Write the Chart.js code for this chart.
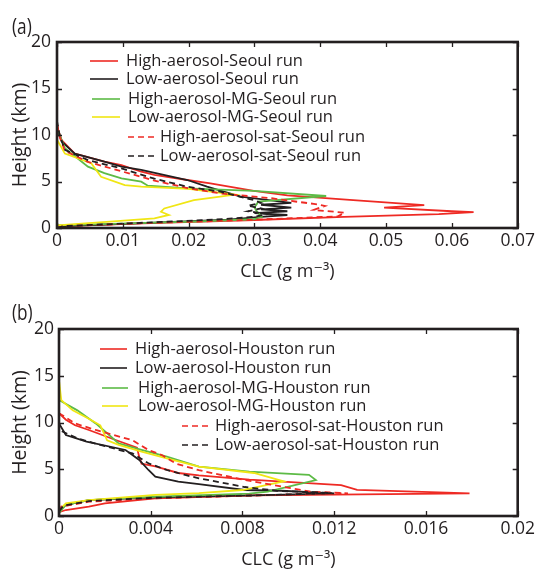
<!DOCTYPE html>
<html><head><meta charset="utf-8">
<script src="https://cdn.jsdelivr.net/npm/chart.js@4.4.1/dist/chart.umd.min.js"></script>
<style>
html,body{margin:0;padding:0;background:#fff;width:538px;height:573px;overflow:hidden;}
canvas{position:absolute;left:0;display:block;}
#ca{top:0}
#cb{top:287px}
</style></head><body>
<canvas id="ca" width="538" height="287"></canvas>
<canvas id="cb" width="538" height="286"></canvas>
<script>
// ---------- Panel (a): Seoul ----------
const seoulLabels = ['High-aerosol-Seoul run','Low-aerosol-Seoul run','High-aerosol-MG-Seoul run','Low-aerosol-MG-Seoul run','High-aerosol-sat-Seoul run','Low-aerosol-sat-Seoul run'];
const seoulHighH   = [0,0.2,0.5,0.86,1.2,1.5,1.7,1.8,2.2,2.47,3.0,3.5,4.0,4.8,5.16,5.7,6.05,6.77,7.13,8.0,9.46,10.9,18.5];
const seoulHighCLC = [0,0.001,0.013,0.030,0.0436,0.058,0.0633,0.060,0.0497,0.0558,0.045,0.035,0.0299,0.0233,0.0198,0.0148,0.0128,0.0098,0.0072,0.0027,0.0007,0,0];
const seoulLowH    = [0,0.2,0.5,0.9,1.2,1.4,1.6,1.8,2.0,2.2,2.5,2.7,3.37,4.44,5.16,6.24,6.6,7.13,8.0,9.3,10.7,18.5];
const seoulLowCLC  = [0,0.001,0.012,0.026,0.031,0.035,0.030,0.035,0.031,0.0356,0.031,0.0356,0.0279,0.0228,0.0198,0.0128,0.0098,0.0072,0.0027,0.0007,0,0];
const seoulHighMGH   = [0,0.29,0.5,0.7,0.94,1.2,1.75,2.2,2.83,3.44,4.0,4.27,4.55,4.98,5.34,5.9,6.6,8.57,10,11,18.5];
const seoulHighMGCLC = [0,0,0.011,0.021,0.0299,0.0311,0.0304,0.0300,0.0306,0.0409,0.0299,0.0198,0.0138,0.0128,0.0098,0.0072,0.0047,0.0012,0.0004,0,0];
const seoulLowMGH   = [0,0.29,0.65,1.04,1.4,1.75,2.1,3.0,3.37,3.6,4.2,4.44,4.6,5.5,6.96,8.0,9.5,18.5];
const seoulLowMGCLC = [0,0,0.0075,0.0148,0.017,0.0158,0.0163,0.0208,0.0248,0.027,0.020,0.0128,0.0103,0.0067,0.0052,0.0012,0,0];
const seoulHighSatH   = [0,0.2,0.5,0.86,1.25,1.65,1.94,2.37,2.6,2.85,3.2,3.7,4.3,5.1,6.1,7.1,8.3,10,11.5,18.5];
const seoulHighSatCLC = [0,0.001,0.012,0.029,0.0427,0.0437,0.039,0.0407,0.039,0.0362,0.0326,0.025,0.0198,0.0148,0.0098,0.0047,0.0012,0.0003,0,0];
const seoulLowSatH   = [0,0.2,0.5,0.9,1.2,1.5,1.8,2.1,2.4,2.7,3.0,3.9,4.44,5.3,6.4,7.3,8.4,10,11.5,18.5];
const seoulLowSatCLC = [0,0.001,0.011,0.024,0.030,0.032,0.029,0.031,0.029,0.031,0.0299,0.0248,0.0198,0.0148,0.0098,0.0047,0.0012,0.0004,0,0];
const xTicksA = [0,0.01,0.02,0.03,0.04,0.05,0.06,0.07];
const xTickLabelsA = ['0','0.01','0.02','0.03','0.04','0.05','0.06','0.07'];

// ---------- Panel (b): Houston ----------
const houstonLabels = ['High-aerosol-Houston run','Low-aerosol-Houston run','High-aerosol-MG-Houston run','Low-aerosol-MG-Houston run','High-aerosol-sat-Houston run','Low-aerosol-sat-Houston run'];
const houHighH   = [0.4,0.64,1.0,1.36,1.9,2.2,2.43,2.5,2.8,3.3,3.9,4.35,4.6,5.3,5.6,6.3,7.3,8.1,9.2,9.7,10.3,11,11.7];
const houHighCLC = [0,0.0003,0.0013,0.002,0.0042,0.0085,0.0179,0.0169,0.013,0.0123,0.0083,0.0061,0.0052,0.0042,0.0036,0.0035,0.0034,0.0025,0.0013,0.0007,0.0003,0,0];
const houLowH   = [0.5,1.2,1.7,2.0,2.2,2.43,2.7,2.78,3.4,3.67,4.2,4.92,6.0,7.06,7.95,8.66,9.9,10.5];
const houLowCLC = [0,0.0003,0.0013,0.0042,0.0085,0.012,0.0097,0.0081,0.0061,0.0052,0.0042,0.0039,0.0035,0.0029,0.0012,0.0003,0,0];
const houHighMGH   = [0.3,1.2,1.7,2.06,2.4,2.6,3.85,4.4,4.74,5.27,6.34,7.06,7.77,8.85,9.9,11.3,12.4,13.8];
const houHighMGCLC = [0,0.0003,0.0013,0.0042,0.0083,0.0091,0.0112,0.0109,0.0083,0.0061,0.0047,0.0036,0.0026,0.0021,0.0016,0.0008,0,0];
const houLowMGH   = [0.6,1.36,1.7,2.25,2.45,2.78,3.7,4.6,5.27,6.17,6.88,7.6,8.1,9.7,10.4,11.3,12.4,14.5,16.7];
const houLowMGCLC = [0,0.0003,0.0013,0.0042,0.0061,0.0080,0.0098,0.0085,0.0061,0.0047,0.0036,0.0026,0.0021,0.0018,0.0013,0.0006,0.0001,0,0];
const houHighSatH   = [0.5,1.0,1.53,1.9,2.2,2.43,2.6,3.07,3.85,4.9,5.6,6.5,7.06,8.1,9.2,9.9,11];
const houHighSatCLC = [0,0.0001,0.0013,0.0042,0.0085,0.0126,0.0110,0.0099,0.0081,0.0061,0.0051,0.0045,0.0039,0.0032,0.0016,0.0007,0];
const houLowSatH   = [0.5,1.1,1.6,1.95,2.2,2.45,2.7,3.1,4.03,4.39,4.92,5.64,6.7,7.6,8.3,9.2,10];
const houLowSatCLC = [0,0.0002,0.0013,0.0042,0.0085,0.0119,0.0095,0.0081,0.0061,0.0055,0.0047,0.0039,0.0032,0.0018,0.0008,0,0];
const xTicksB = [0,0.004,0.008,0.012,0.016,0.02];
const xTickLabelsB = ['0','0.004','0.008','0.012','0.016','0.02'];

const yTicks = [0,5,10,15,20];
const yTickLabels = ['0','5','10','15','20'];

// ---------- styles ----------
const INK = '#231f20';
const seriesColors = ['#ee2a24','#231f20','#5dbb46','#f0e614','#ee2a24','#231f20'];
const seriesDash = [[],[],[],[],[6,4],[6,4]];
const FONT = '"Open Sans", "DejaVu Sans", sans-serif';

function pts(xs, ys){ return xs.map((x,i)=>({x:x, y:ys[i]})); }

function buildDatasets(labels, series){
  return series.map((s,i)=>({
    label: labels[i],
    data: pts(s[0], s[1]),
    showLine: true,
    borderColor: seriesColors[i],
    backgroundColor: seriesColors[i],
    borderWidth: 1.8,
    borderDash: seriesDash[i],
    pointRadius: 0,
    tension: 0,
    fill: false,
    order: series.length - 1 - i
  }));
}

const framePlugin = {
  id: 'frameLegend',
  afterDraw(chart, args, opts){
    const {ctx, chartArea: ca, scales} = chart;
    ctx.save();
    ctx.strokeStyle = INK;
    ctx.lineWidth = 1.3;
    const tl = 5;
    ctx.beginPath();
    scales.x.ticks.forEach(t=>{
      const px = Math.round(scales.x.getPixelForValue(t.value))+0.5;
      ctx.moveTo(px, ca.bottom); ctx.lineTo(px, ca.bottom - tl);
      ctx.moveTo(px, ca.top); ctx.lineTo(px, ca.top + tl);
    });
    scales.y.ticks.forEach(t=>{
      const py = Math.round(scales.y.getPixelForValue(t.value))+0.5;
      ctx.moveTo(ca.left, py); ctx.lineTo(ca.left + tl, py);
      ctx.moveTo(ca.right, py); ctx.lineTo(ca.right - tl, py);
    });
    ctx.stroke();
    ctx.lineWidth = 2.6;
    ctx.strokeRect(ca.left, ca.top, ca.right - ca.left, ca.bottom - ca.top);
    // legend
    ctx.font = '16.5px ' + FONT;
    ctx.textBaseline = 'middle';
    ctx.textAlign = 'left';
    chart.data.datasets.forEach((ds,i)=>{
      const it = opts.items[i];
      ctx.beginPath();
      ctx.strokeStyle = ds.borderColor;
      ctx.lineWidth = 1.6;
      ctx.setLineDash(ds.borderDash || []);
      ctx.moveTo(it.lx0, it.y); ctx.lineTo(it.lx1, it.y);
      ctx.stroke();
      ctx.setLineDash([]);
      ctx.fillStyle = INK;
      ctx.fillText(ds.label, it.tx, it.y);
    });
    // panel label
    ctx.save();
    ctx.font = '21px ' + FONT;
    ctx.fillStyle = INK;
    ctx.translate(opts.panelX, opts.panelY);
    ctx.scale(0.82, 1);
    ctx.fillText(opts.panel, 0, 0);
    ctx.restore();
    ctx.restore();
  }
};

function makeChart(id, labels, series, xTicks, xTickLabels, xMax, geom, legendItems, panel){
  const canvas = document.getElementById(id);
  return new Chart(canvas, {
    type: 'scatter',
    data: { datasets: buildDatasets(labels, series) },
    options: {
      responsive: false,
      animation: false,
      devicePixelRatio: 1,
      layout: { padding: { left: 0, top: geom.top, right: geom.right, bottom: geom.bottom } },
      plugins: {
        legend: { display: false },
        tooltip: { enabled: false },
        frameLegend: { items: legendItems, panel: panel, panelX: 12, panelY: geom.panelY }
      },
      scales: {
        x: {
          type: 'linear', min: 0, max: xMax,
          grid: { display: false, drawTicks: false },
          border: { display: false },
          afterBuildTicks: s => { s.ticks = xTicks.map(v=>({value:v})); },
          afterFit: s => { s.height = geom.xh; },
          ticks: { color: INK, font: { family: FONT, size: 17.5 }, padding: 3, maxRotation: 0,
                   callback: (v, i) => xTickLabels[i] },
          title: { display: true, text: 'CLC (g m\u207B\u00B3)', color: INK,
                   font: { family: FONT, size: 18 }, padding: { top: 0, bottom: 0 } }
        },
        y: {
          type: 'linear', min: 0, max: 20,
          grid: { display: false, drawTicks: false },
          border: { display: false },
          afterBuildTicks: s => { s.ticks = yTicks.map(v=>({value:v})); },
          afterFit: s => { s.width = geom.yw; },
          ticks: { color: INK, font: { family: FONT, size: 17.5 }, padding: geom.ypad,
                   callback: (v, i) => yTickLabels[i] },
          title: { display: true, text: 'Height (km)', color: INK,
                   font: { family: FONT, size: 19.5 }, padding: { top: 9, bottom: 0 } }
        }
      }
    },
    plugins: [framePlugin]
  });
}

makeChart('ca', seoulLabels,
  [[seoulHighCLC, seoulHighH],[seoulLowCLC, seoulLowH],[seoulHighMGCLC, seoulHighMGH],
   [seoulLowMGCLC, seoulLowMGH],[seoulHighSatCLC, seoulHighSatH],[seoulLowSatCLC, seoulLowSatH]],
  xTicksA, xTickLabelsA, 0.07,
  { top: 42, right: 17, bottom: 4, xh: 55, yw: 57, ypad: 6, panelY: 28 },
  [ {lx0:90,lx1:118,y:61,tx:126}, {lx0:90,lx1:118,y:79,tx:126},
    {lx0:92,lx1:120,y:99,tx:128}, {lx0:92,lx1:120,y:117,tx:128},
    {lx0:128,lx1:155,y:137,tx:160}, {lx0:128,lx1:155,y:156,tx:160} ],
  '(a)');

makeChart('cb', houstonLabels,
  [[houHighCLC, houHighH],[houLowCLC, houLowH],[houHighMGCLC, houHighMGH],
   [houLowMGCLC, houLowMGH],[houHighSatCLC, houHighSatH],[houLowSatCLC, houLowSatH]],
  xTicksB, xTickLabelsB, 0.02,
  { top: 42, right: 16, bottom: 2, xh: 55, yw: 59, ypad: 5, panelY: 27 },
  [ {lx0:100,lx1:127,y:62,tx:135}, {lx0:100,lx1:127,y:81,tx:135},
    {lx0:102,lx1:128,y:101,tx:138}, {lx0:102,lx1:128,y:119,tx:138},
    {lx0:182,lx1:208,y:139,tx:215}, {lx0:182,lx1:208,y:158,tx:215} ],
  '(b)');
</script></body></html>
